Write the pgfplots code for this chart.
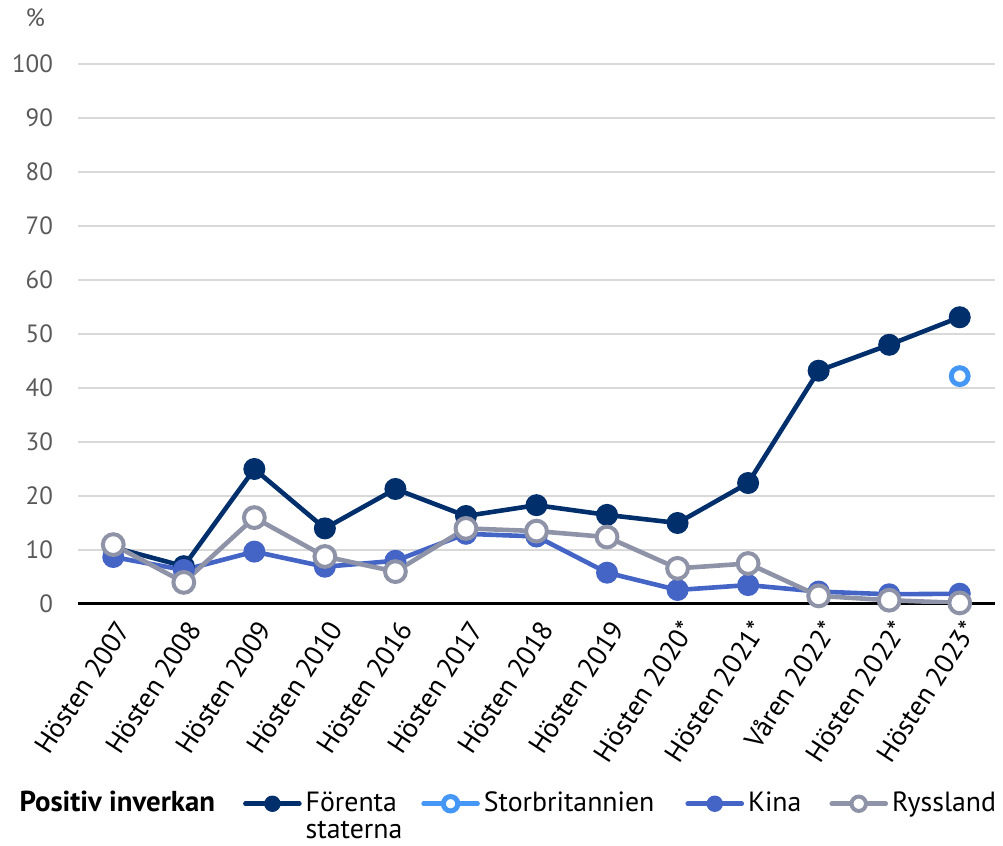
\documentclass[border=0pt]{standalone}
\usepackage{fontspec}
\setmainfont{PT Sans}
\usepackage{pgfplots}
\pgfplotsset{compat=1.18}
\definecolor{usa}{HTML}{002F6C}
\definecolor{uk}{HTML}{4497F5}
\definecolor{kina}{HTML}{4565C6}
\definecolor{rus}{HTML}{8F93A8}
\definecolor{gridgray}{HTML}{D9D9D9}
\definecolor{tickgray}{HTML}{595959}
\begin{document}
\begin{tikzpicture}
\begin{axis}[
  scale only axis,
  width=458.5pt, height=270pt,
  xmin=-0.5, xmax=12.5, ymin=0, ymax=100,
  xtick={0,...,12},
  xticklabels={Hösten 2007,Hösten 2008,Hösten 2009,Hösten 2010,Hösten 2016,Hösten 2017,Hösten 2018,Hösten 2019,Hösten 2020*,Hösten 2021*,Våren 2022*,Hösten 2022*,Hösten 2023*},
  ytick={0,10,...,100},
  /pgf/number format/assume math mode=true,
  major tick length=0pt,
  axis x line*=bottom, axis y line*=left,
  x axis line style={black, line width=1.5pt, -},
  y axis line style={draw=none},
  ymajorgrids, grid style={gridgray, line width=1pt},
  xticklabel style={xshift=0pt, yshift=-2.5pt, rotate=57, anchor=north east, font=\fontsize{13.8}{15}\selectfont},
  yticklabel style={anchor=east, xshift=-9pt, text=tickgray, font=\fontsize{12.5}{14}\selectfont},
  legend columns=5,
  legend style={overlay, draw=none, fill=none, at={(-0.075,-0.329)}, anchor=north west,
    font=\fontsize{13.9}{15.5}\selectfont, cells={anchor=base west},
    /tikz/every odd column/.append style={column sep=0pt},
    /tikz/column 2/.style={column sep=12pt},
    /tikz/column 4/.style={column sep=7.5pt},
    /tikz/column 6/.style={column sep=13.5pt},
    /tikz/column 8/.style={column sep=12pt}},
  legend image code/.code={\draw[mark repeat=2,mark phase=2, mark size=3.6pt, line cap=round] plot coordinates {(1pt,4pt)(14.5pt,4pt)(28pt,4pt)};},
]
\addlegendimage{empty legend}
\addlegendentry{\fontsize{14.4}{16}\selectfont\textbf{Positiv inverkan}}

\addplot[usa, line width=2.3pt, mark=*, mark size=5pt, mark options={line width=1pt}]
coordinates {(0,10.5)(1,7)(2,25)(3,14)(4,21.3)(5,16.3)(6,18.3)(7,16.5)(8,15)(9,22.4)(10,43.2)(11,48)(12,53.1)};
\addlegendentry{\begin{tabular}[t]{@{}l@{}}Förenta\\[-2pt]staterna\end{tabular}}

\addplot[uk, line width=2.3pt, mark=*, mark size=4.2pt, mark options={fill=white, line width=2.5pt}]
coordinates {(12,42.2)};
\addlegendentry{Storbritannien}

\addplot[kina, line width=2.3pt, mark=*, mark size=5pt, mark options={line width=1pt}]
coordinates {(0,8.7)(1,6.3)(2,9.7)(3,6.9)(4,8)(5,13)(6,12.5)(7,5.8)(8,2.6)(9,3.5)(10,2.3)(11,1.8)(12,1.9)};
\addlegendentry{Kina}

\addplot[rus, line width=2.3pt, mark=*, mark size=5.2pt, mark options={fill=white, line width=2pt}]
coordinates {(0,11)(1,4)(2,16)(3,8.8)(4,6)(5,14)(6,13.5)(7,12.4)(8,6.6)(9,7.5)(10,1.5)(11,0.7)(12,0.2)};
\addlegendentry{Ryssland}
\end{axis}
\node[anchor=east, text=tickgray, font=\fontsize{12.5}{14}\selectfont] at ([shift={(-13pt,23pt)}]current axis.north west) {\%};
\path ([shift={(-39pt,-121pt)}]current axis.south west) rectangle ([shift={(4pt,32pt)}]current axis.north east);
\end{tikzpicture}
\end{document}
